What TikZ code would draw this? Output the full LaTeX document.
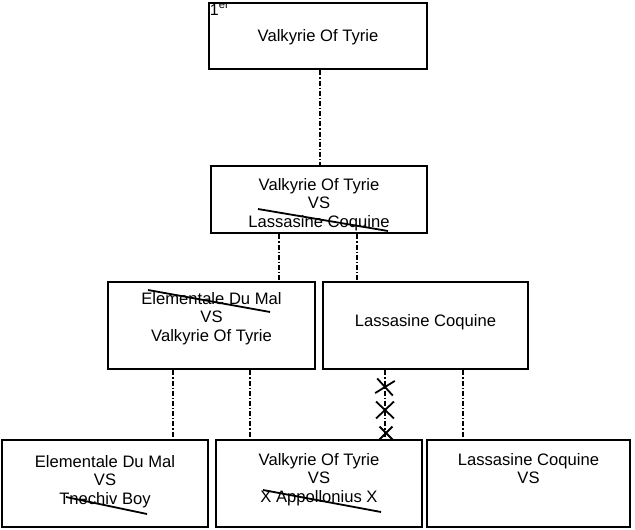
\documentclass[tikz,border=0pt]{standalone}
\usepackage{fontspec}
\setmainfont{Liberation Sans}
\usetikzlibrary{positioning, shapes.misc}

\begin{document}
\begin{tikzpicture}[x=1pt, y=-1pt, >=latex]

        % Define block styles
        \tikzstyle{box} = [rectangle, draw, line width=2.6pt, inner sep=0pt]
        \tikzstyle{txt} = [align=center, inner sep=0pt, font=\fontsize{16.6}{18.5}\selectfont]
        \tikzstyle{link} = [line width=1.1pt, dash pattern=on 5pt off 2pt on 1.2pt off 2pt]
        \tikzstyle{strike} = [line width=1.8pt]
        \tikzstyle{cross} = [cross out, draw, line width=1.8pt, inner sep=0pt]

        \useasboundingbox (0,0) rectangle (635,530);

        % Components
        \node (b1) [box, minimum width=218pt, minimum height=66pt] at (318,36) {};
        \node (b2) [box, minimum width=216pt, minimum height=67pt] at (319,199.5) {};
        \node (b3) [box, minimum width=207pt, minimum height=87pt] at (211.5,325.5) {};
        \node (b4) [box, minimum width=205pt, minimum height=87pt] at (425.5,325.5) {};
        \node (b5) [box, minimum width=206pt, minimum height=87pt] at (105,483.5) {};
        \node (b6) [box, minimum width=206pt, minimum height=87pt] at (319,483.5) {};
        \node (b7) [box, minimum width=203pt, minimum height=87pt] at (528.5,483.5) {};

        % Texts
        \node (rank) [anchor=north west, inner sep=0pt, font=\fontsize{16}{16}\selectfont] at ([xshift=2pt,yshift=-1pt]b1.north west) {1\textsuperscript{er}};
        \node (t1) [txt] at ([yshift=-1pt]b1.center) {Valkyrie Of Tyrie};
        \node (t2) [txt] at ([yshift=-5pt]b2.center) {Valkyrie Of Tyrie\\VS\\Lassasine Coquine};
        \node (t3) [txt] at ([yshift=7pt]b3.center) {Elementale Du Mal\\VS\\Valkyrie Of Tyrie};
        \node (t4) [txt] at ([yshift=3.5pt]b4.center) {Lassasine Coquine};
        \node (t5) [txt] at ([yshift=2pt]b5.center) {Elementale Du Mal\\VS\\Tnechiv Boy};
        \node (t6) [txt] at ([yshift=4pt]b6.center) {Valkyrie Of Tyrie\\VS\\X Appollonius X};
        \node (t7) [txt] at ([yshift=15pt]b7.center) {Lassasine Coquine\\VS};

        % Links
        \draw [link] ([xshift=2pt]b1.south) -- ([xshift=2pt]b1.south |- b2.north);
        \draw [link] ([xshift=-40pt]b2.south) -- ([xshift=-40pt]b2.south |- b3.north);
        \draw [link] ([xshift=38pt]b2.south) -- ([xshift=38pt]b2.south |- b4.north);
        \draw [link] ([xshift=-38.5pt]b3.south) -- ([xshift=-38.5pt]b3.south |- b5.north);
        \draw [link] ([xshift=38.5pt]b3.south) -- ([xshift=38.5pt]b3.south |- b6.north);
        \draw [link] ([xshift=-40.5pt]b4.south) -- ([xshift=-40.5pt]b4.south |- b6.north);
        \draw [link] ([xshift=37.5pt]b4.south) -- ([xshift=37.5pt]b4.south |- b7.north);

        % Crossed out
        \node (x1) [cross, minimum width=16pt, minimum height=13pt, rotate=-8] at (385,387) {};
        \node (x2) [cross, minimum width=16pt, minimum height=15pt] at (385,410) {};
        \node (x3) [cross, minimum width=11pt, minimum height=11pt] at (386,433) {};

        \draw [strike] (258,209) -- (388,231);
        \draw [strike] (148,290) -- (270,312);
        \draw [strike] (66,497) -- (147,514);
        \draw [strike] (263,490) -- (381,512);

\end{tikzpicture}
\end{document}
